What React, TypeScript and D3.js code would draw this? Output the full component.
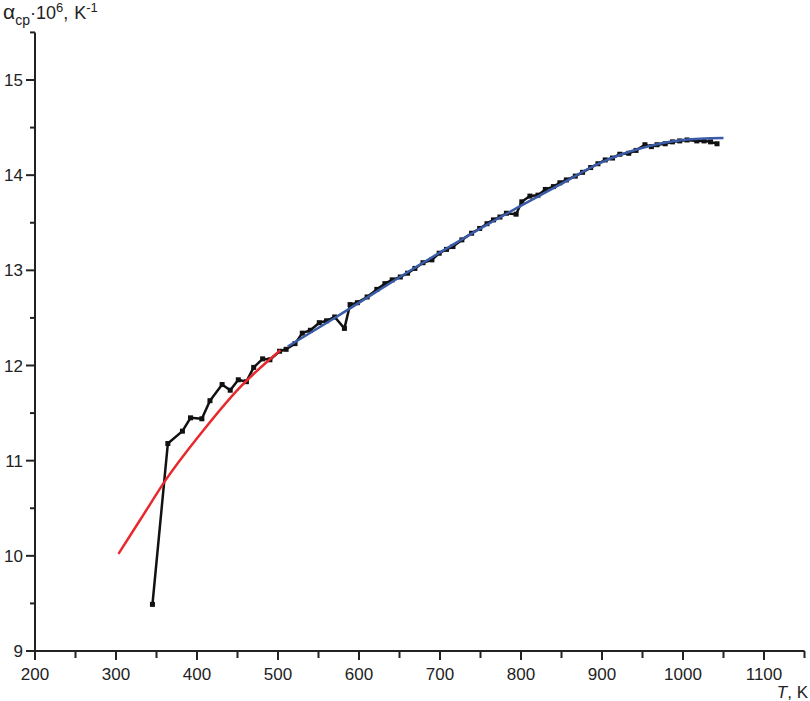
import React from "react";
import * as d3 from "d3";

const measT = [345, 364, 382, 392, 406, 416, 431, 441, 451, 461, 470, 481, 490, 502, 510, 521, 530, 540, 551, 560, 570, 582, 589, 598, 610, 622, 632, 641, 651, 660, 669, 679, 690, 699, 708, 716, 727, 739, 749, 758, 766, 774, 782, 794, 801, 811, 821, 830, 840, 848, 856, 867, 876, 886, 895, 904, 913, 922, 933, 942, 953, 961, 968, 978, 987, 996, 1005, 1017, 1026, 1034, 1042];
const measA = [9.49, 11.18, 11.31, 11.45, 11.44, 11.63, 11.80, 11.74, 11.85, 11.83, 11.98, 12.07, 12.06, 12.15, 12.17, 12.23, 12.34, 12.37, 12.45, 12.47, 12.51, 12.39, 12.64, 12.66, 12.72, 12.80, 12.86, 12.90, 12.93, 12.97, 13.02, 13.08, 13.11, 13.18, 13.22, 13.25, 13.32, 13.39, 13.44, 13.49, 13.53, 13.56, 13.60, 13.59, 13.72, 13.78, 13.79, 13.85, 13.88, 13.92, 13.95, 13.99, 14.03, 14.08, 14.12, 14.16, 14.18, 14.22, 14.23, 14.26, 14.32, 14.30, 14.32, 14.33, 14.35, 14.36, 14.37, 14.36, 14.36, 14.35, 14.33];

const redT = [303, 333, 360, 408, 453, 503];
const redA = [10.02, 10.42, 10.78, 11.32, 11.77, 12.16];

const blueT = [512, 572, 660, 756, 848, 898, 947, 1000, 1050];
const blueA = [12.20, 12.51, 12.98, 13.47, 13.90, 14.13, 14.28, 14.37, 14.39];

const xMajor = [200, 300, 400, 500, 600, 700, 800, 900, 1000, 1100];
const xMinor = [250, 350, 450, 550, 650, 750, 850, 950, 1050, 1150];
const yMajor = [9, 10, 11, 12, 13, 14, 15];
const yMinor = [9.5, 10.5, 11.5, 12.5, 13.5, 14.5, 15.5];

export default function App() {
  const x = d3.scaleLinear().domain([200, 1150]).range([35, 804.5]);
  const y = d3.scaleLinear().domain([9, 15]).range([651, 80]);
  const font = "'Liberation Sans', Arial, sans-serif";
  const axisColor = "#222";

  const line = d3
    .line<[number, number]>()
    .x((d) => x(d[0]))
    .y((d) => y(d[1]));
  const smooth = d3
    .line<[number, number]>()
    .x((d) => x(d[0]))
    .y((d) => y(d[1]))
    .curve(d3.curveMonotoneX);

  const meas: [number, number][] = measT.map((t, i) => [t, measA[i]]);
  const red: [number, number][] = redT.map((t, i) => [t, redA[i]]);
  const blue: [number, number][] = blueT.map((t, i) => [t, blueA[i]]);

  return (
    <svg
      width={810}
      height={701}
      style={{ position: "absolute", left: 0, top: 0, background: "#fff" }}
      fontFamily={font}
    >
      <rect x={0} y={0} width={810} height={701} fill="#fff" />
      {/* measured data */}
      <path d={line(meas) || ""} fill="none" stroke="#111" strokeWidth={2.5} strokeLinejoin="round" />
      {meas.map((d, i) => (
        <rect key={i} x={x(d[0]) - 2.5} y={y(d[1]) - 2.5} width={5} height={5} fill="#111" />
      ))}
      {/* fits */}
      <path d={smooth(red) || ""} fill="none" stroke="#e8282c" strokeWidth={2.5} />
      <path d={smooth(blue) || ""} fill="none" stroke="#3a5ba8" strokeWidth={2.5} />

      {/* axes */}
      <line x1={x(200)} x2={x(1150)} y1={y(9)} y2={y(9)} stroke={axisColor} strokeWidth={2} />
      <line x1={x(200)} x2={x(200)} y1={y(9)} y2={y(15.5)} stroke={axisColor} strokeWidth={2} />
      {xMajor.map((v) => (
        <g key={"xm" + v}>
          <line x1={x(v)} x2={x(v)} y1={y(9)} y2={y(9) + 9} stroke={axisColor} strokeWidth={2} />
          <text x={x(v)} y={680} textAnchor="middle" fontSize={17} fill="#222">
            {v}
          </text>
        </g>
      ))}
      {xMinor.map((v) => (
        <line key={"xn" + v} x1={x(v)} x2={x(v)} y1={y(9)} y2={y(9) + 7} stroke={axisColor} strokeWidth={2} />
      ))}
      {yMajor.map((v) => (
        <g key={"ym" + v}>
          <line x1={x(200) - 9} x2={x(200)} y1={y(v)} y2={y(v)} stroke={axisColor} strokeWidth={2} />
          <text x={23} y={y(v) + 6} textAnchor="end" fontSize={17} fill="#222">
            {v}
          </text>
        </g>
      ))}
      {yMinor.map((v) => (
        <line key={"yn" + v} x1={x(200) - 5} x2={x(200)} y1={y(v)} y2={y(v)} stroke={axisColor} strokeWidth={2} />
      ))}

      {/* axis titles */}
      <text x={3} y={19} fontSize={18} fill="#222">
        <tspan fontSize={21}>α</tspan>
        <tspan fontSize={14} dy={6}>cp</tspan>
        <tspan dy={-6}>·10</tspan>
        <tspan fontSize={13} dy={-7}>6</tspan>
        <tspan dy={7}>,</tspan>
        <tspan dx={6}>K</tspan>
        <tspan fontSize={13} dy={-7}>-1</tspan>
      </text>
      <text x={808} y={698} fontSize={17} fill="#222" textAnchor="end">
        <tspan fontStyle="italic">T</tspan>
        <tspan>, K</tspan>
      </text>
    </svg>
  );
}
